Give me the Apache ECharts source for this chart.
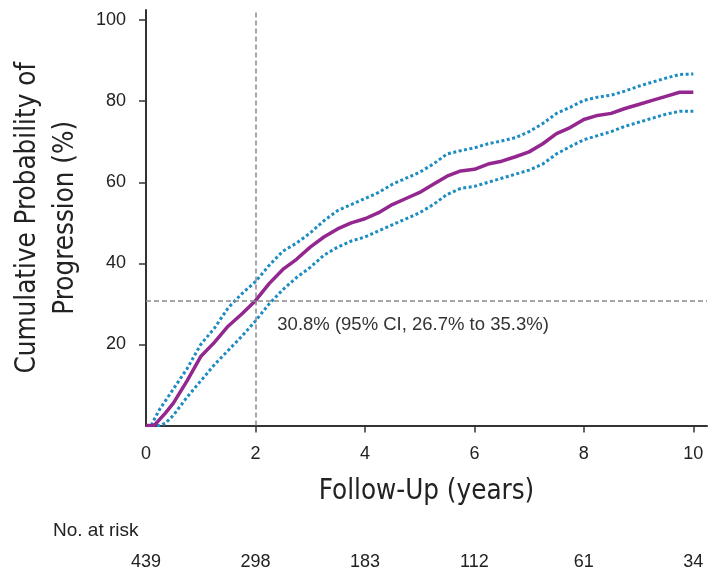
<!DOCTYPE html>
<html>
<head>
<meta charset="utf-8">
<script src="https://cdn.jsdelivr.net/npm/echarts@6/dist/echarts.min.js"></script>
<style>
  html, body { margin: 0; padding: 0; background: #fff; }
  #chart { width: 709px; height: 572px; }
</style>
</head>
<body>
<div id="chart"></div>
<script>
// ---- Data ----
const years       = [0, 0.1, 0.15, 0.25, 0.35, 0.5, 0.75, 1.0, 1.25, 1.5, 1.75, 2.0, 2.25, 2.5, 2.75, 3.0, 3.25, 3.5, 3.75, 4.0, 4.25, 4.5, 4.75, 5.0, 5.25, 5.5, 5.75, 6.0, 6.25, 6.5, 6.75, 7.0, 7.25, 7.5, 7.75, 8.0, 8.25, 8.5, 8.75, 9.0, 9.25, 9.5, 9.75, 10.0];
const progression = [0, 0, 0, 1.5, 3, 5.5, 11, 17, 20.5, 24.5, 27.5, 30.8, 35, 38.5, 41, 44, 46.5, 48.5, 50, 51, 52.5, 54.5, 56, 57.5, 59.5, 61.5, 62.8, 63.2, 64.5, 65.2, 66.3, 67.5, 69.5, 72, 73.5, 75.5, 76.5, 77, 78.2, 79.2, 80.2, 81.2, 82.2, 82.2];
const upperCI     = [0, 0, 1.5, 4, 6, 9, 14, 20, 24, 29, 32.5, 35.5, 39.5, 43, 45, 47.5, 50.5, 53, 54.5, 56, 57.5, 59.5, 61, 62.5, 64.5, 67, 67.8, 68.5, 69.5, 70.2, 71, 72.5, 74.5, 77, 78.5, 80.2, 81, 81.5, 82.5, 83.7, 84.7, 85.7, 86.6, 86.7];
const lowerCI     = [0, 0, 0, 0, 0.5, 2.5, 7, 11, 15, 18.5, 22, 25.8, 30, 33.5, 36.5, 39, 42, 44, 45.5, 46.5, 48, 49.5, 51, 52.5, 54.5, 57, 58.5, 59, 60, 61, 62, 63, 64.5, 67, 68.8, 70.5, 71.5, 72.5, 73.8, 74.8, 75.8, 76.8, 77.5, 77.5];

const xTickLabels = [0, 2, 4, 6, 8, 10];
const xTickMarks  = [2, 4, 6, 8, 10];
const yTickLabels = [20, 40, 60, 80, 100];
const atRisk      = [439, 298, 183, 112, 61, 34];

const refYear = 2;
const refValue = 30.8;
const annotation = '30.8% (95% CI, 26.7% to 35.3%)';

// ---- Chart ----
const pair = (xs, ys) => xs.map((x, i) => [x, ys[i]]);
const REG = "'Liberation Sans', Arial, sans-serif";
const NARROW = "'Liberation Sans Narrow', 'DejaVu Sans Condensed', 'Liberation Sans', sans-serif";
const PURPLE = '#93278f';
const BLUE = '#1d8cc2';

const chart = echarts.init(document.getElementById('chart'), null, { renderer: 'canvas' });
chart.setOption({
  animation: false,
  backgroundColor: '#ffffff',
  grid: { left: 146, right: 2, top: 10, bottom: 146.5, containLabel: false },
  xAxis: [{
    type: 'value', min: 0, max: 10.25,
    name: 'Follow-Up (years)', nameLocation: 'middle', nameGap: 52,
    nameTextStyle: { fontFamily: NARROW, fontSize: 27.5, color: '#222' },
    axisLine: { show: true, onZero: false, lineStyle: { color: '#333', width: 2 } },
    axisTick: { show: true, customValues: xTickMarks, length: 7, lineStyle: { color: '#333', width: 1.5 } },
    axisLabel: { customValues: xTickLabels, fontFamily: REG, fontSize: 18, color: '#222', margin: 20 },
    splitLine: { show: false }
  }, {
    type: 'value', min: 0, max: 10.25, position: 'bottom', offset: 128,
    axisLine: { show: false }, axisTick: { show: false }, splitLine: { show: false },
    axisLabel: {
      customValues: xTickLabels, fontFamily: REG, fontSize: 18, color: '#222', margin: 0,
      formatter: v => String(atRisk[xTickLabels.indexOf(v)])
    }
  }],
  yAxis: {
    type: 'value', min: 0, max: 102.5,
    name: 'Cumulative Probability of\nProgression (%)', nameLocation: 'middle', nameGap: 58, nameRotate: 90,
    nameTextStyle: { fontFamily: NARROW, fontSize: 27.5, color: '#222', lineHeight: 38, align: 'center' },
    axisLine: { show: true, lineStyle: { color: '#333', width: 2 } },
    axisTick: { show: true, customValues: yTickLabels, length: 7, lineStyle: { color: '#333', width: 1.5 } },
    axisLabel: { customValues: yTickLabels, fontFamily: REG, fontSize: 18, color: '#222', margin: 20 },
    splitLine: { show: false }
  },
  graphic: [{
    type: 'text', left: 53, top: 521,
    style: { text: 'No. at risk', fontFamily: REG, fontSize: 19, fill: '#222' }
  }],
  series: [{
    type: 'line', data: [], z: 1, silent: true,
    markLine: {
      silent: true, symbol: 'none', label: { show: false },
      lineStyle: { color: '#8a8a8a', type: [5, 3], width: 1.5 },
      data: [{ xAxis: refYear }, { yAxis: refValue }]
    }
  }, {
    name: 'Upper 95% CI', type: 'line', data: pair(years, upperCI), showSymbol: false, z: 3,
    lineStyle: { color: BLUE, width: 3, type: [3, 2.5] }
  }, {
    name: 'Lower 95% CI', type: 'line', data: pair(years, lowerCI), showSymbol: false, z: 3,
    lineStyle: { color: BLUE, width: 3, type: [3, 2.5] }
  }, {
    name: 'Progression', type: 'line', data: pair(years, progression), showSymbol: false, z: 4,
    lineStyle: { color: PURPLE, width: 3.5 },
    markPoint: {
      silent: true, symbol: 'circle', symbolSize: 1, itemStyle: { color: 'rgba(0,0,0,0)' },
      label: { show: true, position: 'right', distance: 0, formatter: annotation,
               fontFamily: REG, fontSize: 18.5, color: '#333' },
      data: [{ coord: [2.39, 24.8] }]
    }
  }]
});
</script>
</body>
</html>
